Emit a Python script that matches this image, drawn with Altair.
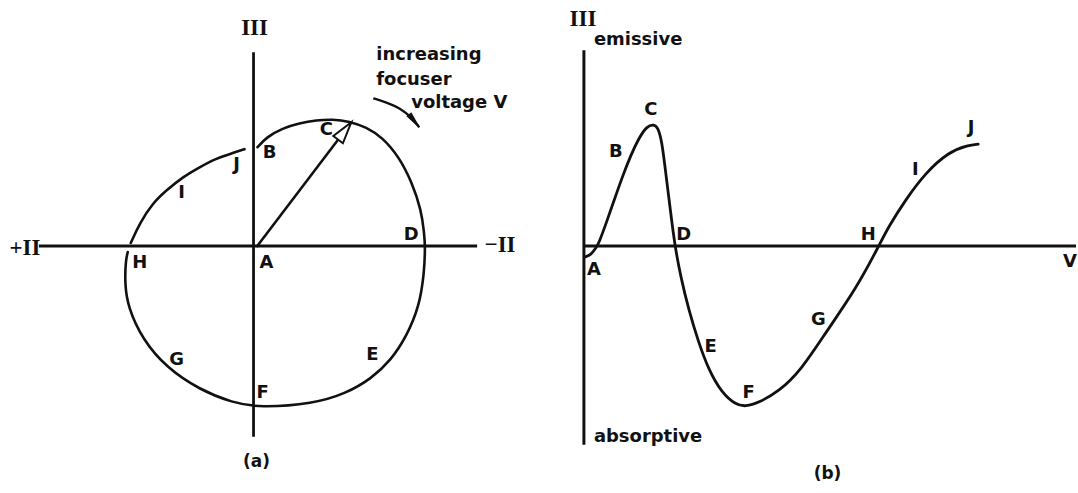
import math

import altair as alt
import pandas as pd

# ---------------- panel (a): locus in the (-II, III) plane ----------------
# main arc B -> C -> D -> E -> F -> G -> H (u along -II, v along III)
ARC_BH_U = [0.04, 0.13, 0.29, 0.46, 0.63, 0.79, 0.96, 1.13, 1.29, 1.46,
            1.59, 1.68, 1.71, 1.72, 1.71, 1.66, 1.53, 1.38, 1.18, 0.92,
            0.60, 0.06, -0.21, -0.54, -0.87, -1.11, -1.26, -1.29,
            -1.28, -1.26]
ARC_BH_V = [0.99, 1.09, 1.18, 1.23, 1.26, 1.27, 1.25, 1.19, 1.09, 0.89,
            0.63, 0.36, 0.13, -0.01, -0.27, -0.61, -0.91, -1.14, -1.33, -1.48,
            -1.58, -1.62, -1.57, -1.44, -1.22, -0.94, -0.61, -0.37,
            -0.14, -0.06]
# closing arc H -> I -> J
ARC_HJ_U = [-1.23, -1.14, -1.01, -0.87, -0.71, -0.54, -0.37, -0.21, -0.09]
ARC_HJ_V = [0.03, 0.23, 0.43, 0.56, 0.69, 0.79, 0.88, 0.93, 0.97]

# radius vector from A to C
RADIUS_U = [0.03, 0.98]
RADIUS_V = [-0.01, 1.24]

# curved arrow showing the sense of increasing voltage
TURN_U = [1.20, 1.33, 1.47, 1.58, 1.66]
TURN_V = [1.48, 1.44, 1.38, 1.29, 1.19]

POINT_NAMES = ["A", "B", "C", "D", "E", "F", "G", "H", "I", "J"]
NAME_A_U = [0.13, 0.16, 0.73, 1.58, 1.19, 0.09, -0.77, -1.14, -0.72, -0.17]
NAME_A_V = [-0.17, 0.93, 1.16, 0.11, -1.09, -1.47, -1.14, -0.17, 0.53, 0.81]

NOTE_LINES = ["increasing", "focuser", "voltage V"]
NOTE_U = [1.23, 1.23, 1.58]
NOTE_V = [1.91, 1.66, 1.43]

# axis segments: (u0, v0, u1, v1)
AXES_A = [(0.0, 1.94, 0.0, -1.91), (-2.15, 0.0, 2.24, 0.0)]
NUMERALS_A = ["III", "+II", "\u2212II"]
NUMERALS_A_U = [0.01, -2.29, 2.47]
NUMERALS_A_V = [2.18, -0.02, 0.01]

# ---------------- panel (b): signal III against focuser voltage V ----------------
VOLTAGE = [0.01, 0.07, 0.12, 0.15, 0.22, 0.30, 0.38, 0.47, 0.55, 0.63,
           0.70, 0.74, 0.78, 0.82, 0.87, 0.91, 0.97, 1.05, 1.15, 1.25,
           1.38, 1.52, 1.62, 1.75, 1.95, 2.18, 2.44, 2.72, 2.96, 3.05,
           3.22, 3.42, 3.65, 3.85, 3.95]
SIGNAL = [-0.11, -0.09, -0.02, 0.03, 0.22, 0.45, 0.68, 0.91, 1.08, 1.20,
          1.22, 1.19, 1.06, 0.73, 0.33, 0.01, -0.31, -0.64, -0.97, -1.24,
          -1.47, -1.59, -1.61, -1.57, -1.46, -1.24, -0.84, -0.44, 0.01, 0.19,
          0.46, 0.73, 0.94, 1.01, 1.02]

NAME_B_V = [0.10, 0.32, 0.67, 1.00, 1.27, 1.65, 2.35, 2.85, 3.32, 3.88]
NAME_B_S = [-0.24, 0.94, 1.36, 0.11, -1.01, -1.47, -0.74, 0.11, 0.76, 1.18]

AXES_B = [(0.0, 1.96, 0.0, -1.99), (0.0, 0.0, 4.93, 0.0)]
SENSE_WORDS = ["emissive", "absorptive"]
SENSE_V = [0.10, 0.10]
SENSE_S = [2.06, -1.91]

PANEL_W, PANEL_H = 539, 493
Y_DOMAIN = [-2.47, 2.46]
X_DOMAIN_A = [-2.54, 2.85]
X_DOMAIN_B = [-0.46, 4.93]

INK = "#111111"
SANS = "DejaVu Sans"
SERIF = "Liberation Serif"


def scales(x_domain):
    def X(field):
        return alt.X(f"{field}:Q", scale=alt.Scale(domain=x_domain, nice=False, zero=False), axis=None)

    def Y(field):
        return alt.Y(f"{field}:Q", scale=alt.Scale(domain=Y_DOMAIN, nice=False, zero=False), axis=None)

    return X, Y


def curve_frame(pieces):
    rows = []
    for pid, (us, vs) in enumerate(pieces):
        for i, (u, v) in enumerate(zip(us, vs)):
            rows.append({"u": u, "v": v, "piece": pid, "k": i})
    return pd.DataFrame(rows)


def axes_layer(segments, X, Y, width):
    df = pd.DataFrame(segments, columns=["u0", "v0", "u1", "v1"])
    return alt.Chart(df).mark_rule(color=INK, strokeWidth=width, strokeCap="butt").encode(
        x=X("u0"), y=Y("v0"), x2="u1", y2="v1"
    )


def text_layer(words, us, vs, X, Y, font, size, align="center", weight="bold"):
    df = pd.DataFrame({"t": words, "u": us, "v": vs})
    return alt.Chart(df).mark_text(
        font=font, fontSize=size, fontWeight=weight, color=INK, align=align, baseline="middle"
    ).encode(x=X("u"), y=Y("v"), text="t:N")


def heading(u0, v0, u1, v1):
    # clockwise angle from "up", in degrees (both axes use 100 px per unit)
    return math.degrees(math.atan2(u1 - u0, v1 - v0))


# ---------- panel (a) ----------
Xa, Ya = scales(X_DOMAIN_A)

locus = alt.Chart(curve_frame([(ARC_BH_U, ARC_BH_V), (ARC_HJ_U, ARC_HJ_V)])).mark_line(
    color=INK, strokeWidth=2.6, interpolate="basis", strokeCap="round"
).encode(x=Xa("u"), y=Ya("v"), detail="piece:N", order="k:Q")

radius = alt.Chart(curve_frame([(RADIUS_U, RADIUS_V)])).mark_line(
    color=INK, strokeWidth=2.6
).encode(x=Xa("u"), y=Ya("v"), order="k:Q")

radius_tip = alt.Chart(pd.DataFrame({"u": [RADIUS_U[-1]], "v": [RADIUS_V[-1]]})).mark_point(
    shape="M0,0L0.55,2L-0.55,2Z", size=480, filled=True, fill="white", stroke=INK,
    strokeWidth=2, opacity=1,
    angle=heading(RADIUS_U[0], RADIUS_V[0], RADIUS_U[-1], RADIUS_V[-1]),
).encode(x=Xa("u"), y=Ya("v"))

turn = alt.Chart(curve_frame([(TURN_U, TURN_V)])).mark_line(
    color=INK, strokeWidth=2.4, interpolate="basis"
).encode(x=Xa("u"), y=Ya("v"), order="k:Q")

turn_tip = alt.Chart(pd.DataFrame({"u": [TURN_U[-1]], "v": [TURN_V[-1]]})).mark_point(
    shape="M0,0L0.32,2L-0.32,2Z", size=260, filled=True, fill=INK, stroke=INK,
    strokeWidth=1, opacity=1,
    angle=heading(TURN_U[-2], TURN_V[-2], TURN_U[-1], TURN_V[-1]) % 360,
).encode(x=Xa("u"), y=Ya("v"))

panel_a = alt.layer(
    axes_layer(AXES_A, Xa, Ya, 2.8),
    locus,
    radius,
    radius_tip,
    turn,
    turn_tip,
    text_layer(POINT_NAMES, NAME_A_U, NAME_A_V, Xa, Ya, SANS, 18),
    text_layer(NOTE_LINES, NOTE_U, NOTE_V, Xa, Ya, SANS, 18, align="left"),
    text_layer(NUMERALS_A, NUMERALS_A_U, NUMERALS_A_V, Xa, Ya, SERIF, 23),
    text_layer(["(a)"], [0.03], [-2.16], Xa, Ya, SANS, 17),
).properties(width=PANEL_W, height=PANEL_H)

# ---------- panel (b) ----------
Xb, Yb = scales(X_DOMAIN_B)

response = alt.Chart(curve_frame([(VOLTAGE, SIGNAL)])).mark_line(
    color=INK, strokeWidth=2.8, interpolate="basis", strokeCap="round"
).encode(x=Xb("u"), y=Yb("v"), order="k:Q")

panel_b = alt.layer(
    axes_layer(AXES_B, Xb, Yb, 3),
    response,
    text_layer(POINT_NAMES, NAME_B_V, NAME_B_S, Xb, Yb, SANS, 18),
    text_layer(SENSE_WORDS, SENSE_V, SENSE_S, Xb, Yb, SANS, 18, align="left"),
    text_layer(["III"], [-0.01], [2.27], Xb, Yb, SERIF, 23),
    text_layer(["V"], [4.87], [-0.16], Xb, Yb, SANS, 18),
    text_layer(["(b)"], [2.44], [-2.28], Xb, Yb, SANS, 17),
).properties(width=PANEL_W, height=PANEL_H)

chart = (
    alt.hconcat(panel_a, panel_b, spacing=0)
    .properties(padding=0, background="white")
    .configure_view(stroke=None)
)

chart.save("out.html", embed_options={"renderer": "svg", "actions": False})
